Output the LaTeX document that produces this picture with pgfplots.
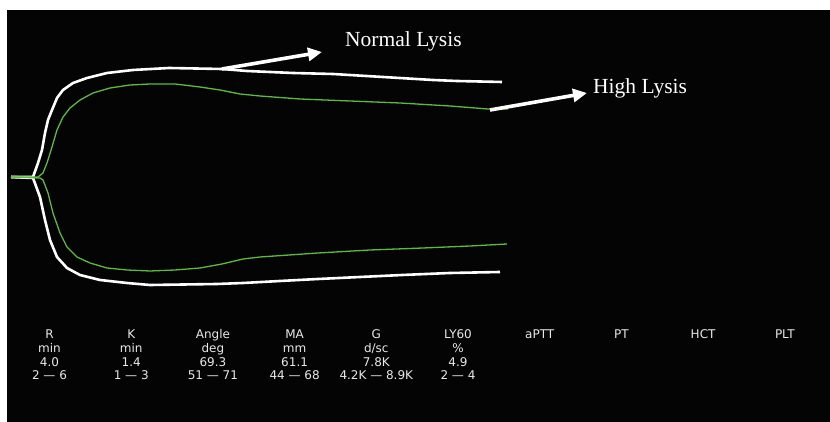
\documentclass[border=0pt]{standalone}
\usepackage{pgfplots}
\pgfplotsset{compat=1.18}
\usetikzlibrary{arrows.meta}
\usepackage{fontspec}
\setmainfont{Liberation Serif}
\newfontfamily\tabfont{DejaVu Sans}
\definecolor{teggreen}{RGB}{92,186,60}
\definecolor{tabgray}{RGB}{232,232,232}
\definecolor{bgblack}{RGB}{4,4,4}
\newcommand\tegcol[5]{%
  \node[anchor=base, text=tabgray, inner sep=0pt, font=\tabfont\fontsize{12bp}{13bp}\selectfont] at (axis cs:#1,-161.5) {#2};
  \node[anchor=base, text=tabgray, inner sep=0pt, font=\tabfont\fontsize{12bp}{13bp}\selectfont] at (axis cs:#1,-175.5) {#3};
  \node[anchor=base, text=tabgray, inner sep=0pt, font=\tabfont\fontsize{12bp}{13bp}\selectfont] at (axis cs:#1,-189.5) {#4};
  \node[anchor=base, text=tabgray, inner sep=0pt, font=\tabfont\fontsize{12bp}{13bp}\selectfont] at (axis cs:#1,-203) {#5};
}
\begin{document}
\begin{tikzpicture}
\fill[white] (0,0) rectangle (830bp,422bp);
\fill[bgblack] (7bp,0) rectangle (830bp,412bp);
\begin{axis}[
  at={(0,0)}, anchor=south west,
  scale only axis, width=830bp, height=422bp,
  xmin=0, xmax=830, ymin=-245, ymax=177,
  hide axis, clip=false]
% Normal lysis (white)
\addplot[white, line width=2.6bp, line join=round] coordinates {
(11,0) (33,0) (38,14) (42,27) (45,44) (48,57) (52,67) (57,79) (63,87) (73,94) (87,99)
(107,104) (133,107) (169,109) (222,108) (247,106) (293,104) (333,103) (383,100) (433,97) (457,96) (502,95)};
\addplot[white, line width=2.6bp, line join=round] coordinates {
(11,0) (33,-1) (40,-20) (45,-43) (50,-63) (57,-80) (67,-91) (80,-98) (100,-103) (127,-106)
(150,-108) (217,-107) (243,-106) (280,-104) (318,-102) (360,-100) (402,-98) (450,-96) (500,-95)};
% High lysis (green)
\addplot[teggreen, line width=1.3bp, line join=round] coordinates {
(11,0) (38,0) (43,4) (47,14) (52,30) (57,47) (63,60) (70,69) (80,77) (93,84) (110,89) (130,92)
(150,93) (175,93) (200,90) (220,87) (240,83) (260,81) (300,78) (350,76) (400,74) (450,71) (488,68) (508,68)};
\addplot[teggreen, line width=1.3bp, line join=round] coordinates {
(11,0) (40,-1) (43,-3) (48,-16) (53,-36) (60,-56) (67,-70) (77,-80) (90,-86) (107,-91) (127,-93)
(150,-94) (175,-93) (200,-91) (222,-87) (243,-82) (260,-80) (318,-76) (370,-73) (423,-71) (470,-69) (507,-67)};
% annotations
\draw[white, line width=3.6bp, -{Triangle[length=14bp,width=13bp]}] (axis cs:222,108) -- (axis cs:322,125);
\draw[white, line width=3.6bp, -{Triangle[length=14bp,width=13bp]}] (axis cs:490,67) -- (axis cs:587,84);
\node[anchor=base west, inner sep=0pt, text=white, font=\fontsize{21.5bp}{25bp}\selectfont] at (axis cs:345,130) {Normal Lysis};
\node[anchor=base west, inner sep=0pt, text=white, font=\fontsize{21.5bp}{25bp}\selectfont] at (axis cs:593,83) {High Lysis};
% parameter table
\tegcol{49.5}{R}{min}{4.0}{2 — 6}
\tegcol{131.2}{K}{min}{1.4}{1 — 3}
\tegcol{212.9}{Angle}{deg}{69.3}{51 — 71}
\tegcol{294.6}{MA}{mm}{61.1}{44 — 68}
\tegcol{376.3}{G}{d/sc}{7.8K}{4.2K — 8.9K}
\tegcol{458}{LY60}{\%}{4.9}{2 — 4}
\tegcol{539.7}{aPTT}{}{}{}
\tegcol{621.4}{PT}{}{}{}
\tegcol{703.1}{HCT}{}{}{}
\tegcol{784.8}{PLT}{}{}{}
\end{axis}
\end{tikzpicture}
\end{document}
